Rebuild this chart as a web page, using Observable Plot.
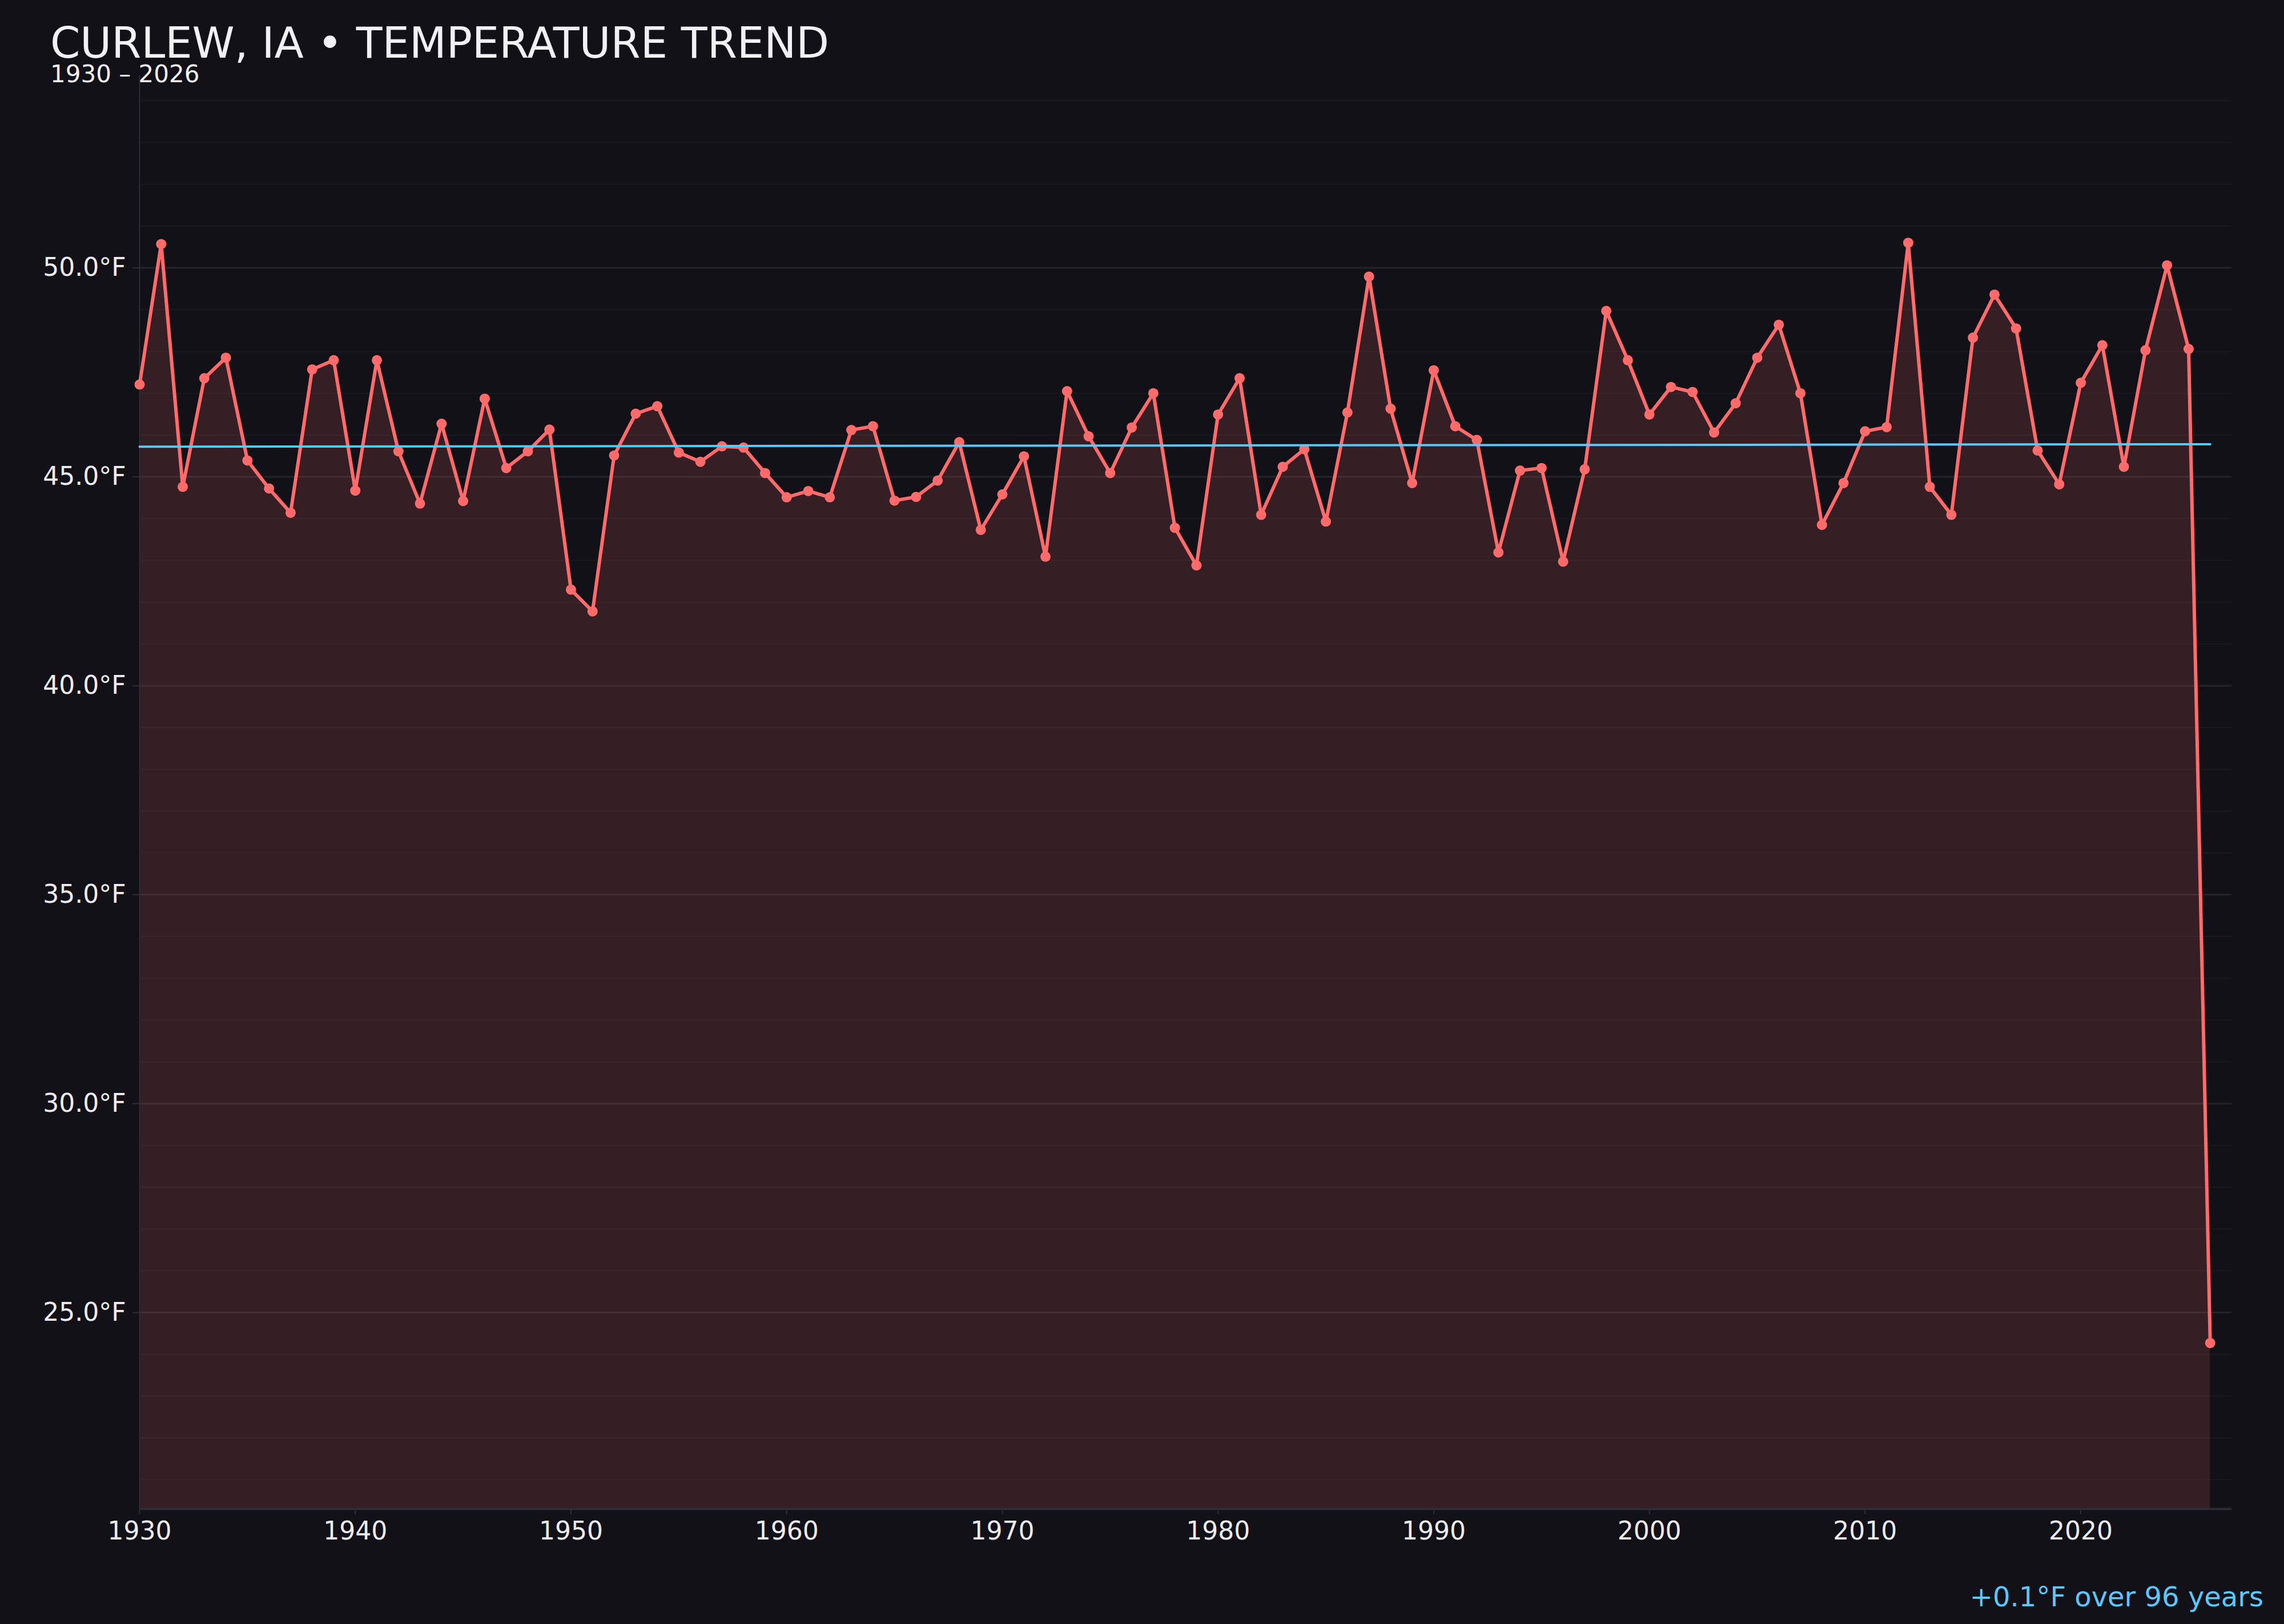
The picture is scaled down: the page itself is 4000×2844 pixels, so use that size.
<!DOCTYPE html>
<html>
<head>
<meta charset="utf-8">
<script src="https://cdn.jsdelivr.net/npm/d3@7"></script>
<script src="https://cdn.jsdelivr.net/npm/@observablehq/plot@0.6"></script>
<style>
  html, body { margin: 0; padding: 0; background: #121118; }
  #wrap { position: relative; width: 4000px; height: 2844px; overflow: hidden; background: #121118; font-family: "DejaVu Sans", sans-serif; }
  #chart { position: absolute; left: 0; top: 0; }
  .txt { position: absolute; white-space: nowrap; }
  #title { left: 88px; top: 44px; font-size: 75px; line-height: 0.85; color: #f0f0f5; }
  #subtitle { left: 88px; top: 112px; font-size: 42px; line-height: 0.85; color: #f0f0f5; }
  #footer { right: 36px; top: 2772px; font-size: 48px; line-height: 1; color: #5ac8fa; }
</style>
</head>
<body>
<div id="wrap">
  <div id="chart"></div>
  <div id="title" class="txt"></div>
  <div id="subtitle" class="txt"></div>
  <div id="footer" class="txt"></div>
</div>
<script>
// ---- data ----
const titleText = "CURLEW, IA • TEMPERATURE TREND";
const subtitleText = "1930 – 2026";
const footerText = "+0.1°F over 96 years";

const firstYear = 1930;
const temps = [
  47.21, 50.57, 44.76, 47.36, 47.85, 45.39, 44.72, 44.14, 47.57, 47.79, // 1930s
  44.67, 47.79, 45.61, 44.36, 46.27, 44.42, 46.87, 45.21, 45.61, 46.13, // 1940s
  42.30, 41.78, 45.51, 46.51, 46.69, 45.58, 45.36, 45.73, 45.70, 45.09, // 1950s
  44.51, 44.66, 44.51, 46.12, 46.21, 44.43, 44.52, 44.91, 45.83, 43.73, // 1960s
  44.58, 45.49, 43.09, 47.05, 45.97, 45.09, 46.18, 47.00, 43.78, 42.88, // 1970s
  46.49, 47.36, 44.09, 45.24, 45.66, 43.93, 46.54, 49.79, 46.63, 44.85, // 1980s
  47.55, 46.21, 45.88, 43.19, 45.15, 45.21, 42.97, 45.18, 48.97, 47.79, // 1990s
  46.49, 47.15, 47.03, 46.06, 46.76, 47.85, 48.64, 47.00, 43.85, 44.85, // 2000s
  46.09, 46.19, 50.60, 44.76, 44.09, 48.33, 49.36, 48.55, 45.63, 44.82, // 2010s
  47.25, 48.15, 45.24, 48.03, 50.06, 48.06, 24.27                       // 2020s
];
const trendYears = [1930, 2026];
const trendTemps = [45.72, 45.78];

const xDomain = [1930, 2027];
const yDomain = [20.3, 54.6];
const xTicks = [1930, 1940, 1950, 1960, 1970, 1980, 1990, 2000, 2010, 2020];
const yMajorTicks = [25, 30, 35, 40, 45, 50];
const yMinorTicks = [21,22,23,24,26,27,28,29,31,32,33,34,36,37,38,39,41,42,43,44,46,47,48,49,51,52,53,54];

// ---- tables built from the arrays ----
const data = temps.map((t, i) => ({year: firstYear + i, temp: t}));
const trend = trendYears.map((y, i) => ({year: y, temp: trendTemps[i]}));

const red = "#ff6b6b";
const blue = "#5ac8fa";
const axisColor = "#2d2d36";

const chart = Plot.plot({
  width: 4000,
  height: 2740,
  marginTop: 132,
  marginBottom: 98,
  marginLeft: 244,
  marginRight: 92,
  x: {type: "linear", domain: xDomain},
  y: {type: "linear", domain: yDomain},
  style: {background: "transparent", color: "#ececf1", fontFamily: "DejaVu Sans", fontSize: "44px", overflow: "visible"},
  marks: [
    Plot.gridY(yMinorTicks, {stroke: "#ffffff", strokeOpacity: 0.035, strokeWidth: 2}),
    Plot.gridY(yMajorTicks, {stroke: "#ffffff", strokeOpacity: 0.08, strokeWidth: 3}),
    Plot.area(data, {x1: "year", y1: () => yDomain[0], y2: "temp", fill: red, fillOpacity: 0.15}),
    Plot.ruleX([xDomain[0]], {stroke: axisColor, strokeWidth: 2}),
    Plot.ruleY([yDomain[0]], {stroke: axisColor, strokeWidth: 4}),
    Plot.axisY(yMajorTicks, {
      tickFormat: d => d.toFixed(1) + "°F", tickSize: 12, tickPadding: 12,
      stroke: axisColor, strokeWidth: 2, fill: "#ececf1", fontSize: 44, label: null
    }),
    Plot.axisX(xTicks, {
      tickFormat: d => String(d), tickSize: 10, tickPadding: 12,
      stroke: axisColor, strokeWidth: 2, fill: "#ececf1", fontSize: 44, label: null
    }),
    Plot.line(data, {x: "year", y: "temp", stroke: red, strokeWidth: 6}),
    Plot.dot(data, {x: "year", y: "temp", r: 9, fill: red, stroke: "none"}),
    Plot.line(trend, {x: "year", y: "temp", stroke: blue, strokeWidth: 4})
  ]
});

document.getElementById("chart").appendChild(chart);
document.getElementById("title").textContent = titleText;
document.getElementById("subtitle").textContent = subtitleText;
document.getElementById("footer").textContent = footerText;
</script>
</body>
</html>
